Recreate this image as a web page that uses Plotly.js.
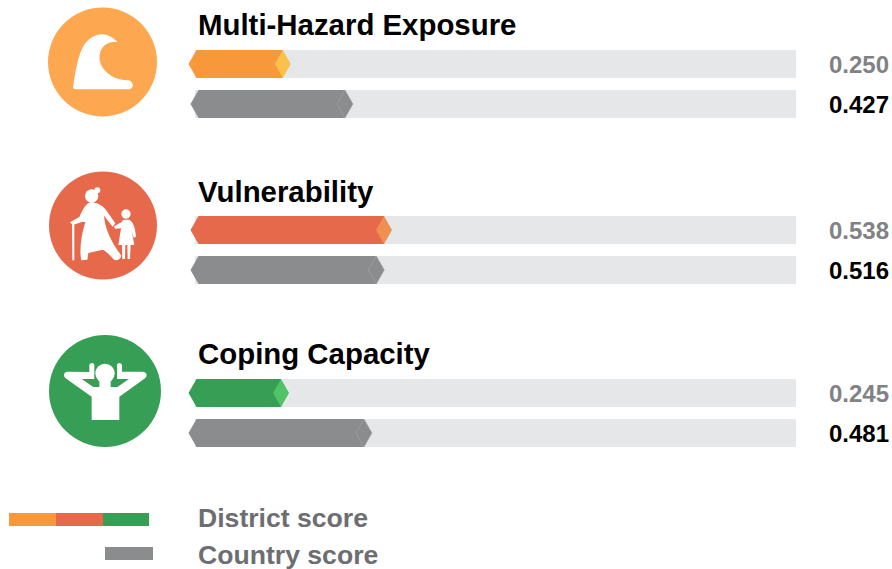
<!DOCTYPE html>
<html>
<head>
<meta charset="utf-8">
<script src="https://cdn.plot.ly/plotly-3.0.1.min.js"></script>
<style>html,body{margin:0;padding:0;background:#fff}#chart{width:892px;height:569px}</style>
</head>
<body>
<div id="chart"></div>
<script>
// ---- data ----
const categories = ['Multi-Hazard Exposure', 'Vulnerability', 'Coping Capacity'];
const districtScores = [0.250, 0.538, 0.245];
const countryScores = [0.427, 0.516, 0.481];
const legendLabels = ['District score', 'Country score'];

// ---- layout constants (pixels / styles) ----
const W = 892, H = 569;
const PX_PER_UNIT = 351.5, ZERO_PX = 194.9, TRACK_END_PX = 796;
const toScore = px => (px - ZERO_PX) / PX_PER_UNIT;
const districtRowY = [64, 230, 393];
const countryRowY = [104, 270, 433];
const titleY = [24, 191, 353];
const districtStartPx = [196.5, 198.5, 196.5];
const countryStartPx = [198.5, 198.5, 196.5];
const districtColors = ['#F7983A', '#E7694C', '#379F55'];
const tipColors = ['#F9C04C', '#EE9050', '#4FC366'];
const grey = '#8A8C8E', greyEdge = '#A3A5A7', track = '#E6E7E8';
const ROW_H = 28, TIP_PX = 8;
const FONT = '"Liberation Sans", Arial, sans-serif';
const tipHalf = TIP_PX / PX_PER_UNIT;

const traces = [];
const allY = districtRowY.concat(countryRowY);
const allStart = districtStartPx.concat(countryStartPx).map(toScore);
const allVals = districtScores.concat(countryScores);
const allCols = districtColors.concat(categories.map(() => grey));

// background tracks
traces.push({type:'bar', orientation:'h', y:allY, base:allY.map(()=>toScore(ZERO_PX)),
  x:allY.map(()=>toScore(TRACK_END_PX)-toScore(ZERO_PX)), width:ROW_H,
  marker:{color:track, line:{width:0}}, hoverinfo:'skip'});
// score bars
traces.push({type:'bar', orientation:'h', y:allY, base:allStart,
  x:allVals.map((v,i)=>v-allStart[i]), width:ROW_H,
  marker:{color:allCols, line:{width:0}}, hoverinfo:'skip'});

function diamond(xc, yc, color, lineColor){
  traces.push({type:'scatter', mode:'lines', fill:'toself', fillcolor:color,
    x:[xc-tipHalf, xc, xc+tipHalf, xc, xc-tipHalf],
    y:[yc, yc-ROW_H/2, yc, yc+ROW_H/2, yc],
    line:{color:lineColor||color, width:lineColor?0.6:0}, hoverinfo:'skip'});
}
allY.forEach((y,i)=>{ diamond(allStart[i], y, allCols[i]); });
districtScores.forEach((v,i)=>diamond(v, districtRowY[i], tipColors[i]));
countryScores.forEach((v,i)=>diamond(v, countryRowY[i], grey, greyEdge));

// ---- text ----
const annotations = [];
function label(text, px, py, size, color, anchor){
  annotations.push({text:'<b>'+text+'</b>', xref:'paper', x:px/W, yref:'y', y:py,
    xanchor:anchor||'left', yanchor:'middle', showarrow:false, align:anchor||'left',
    borderpad:0, font:{family:FONT, size:size, color:color}});
}
categories.forEach((c,i)=>label(c, 197, titleY[i], 29.4, '#000000'));
districtScores.forEach((v,i)=>label(v.toFixed(3), 889.5, districtRowY[i], 24, '#808285', 'right'));
countryScores.forEach((v,i)=>label(v.toFixed(3), 889.5, countryRowY[i], 24, '#000000', 'right'));
label(legendLabels[0], 197, 518, 26.6, '#6D6E71');
label(legendLabels[1], 197, 555, 26.6, '#6D6E71');

// ---- icons and legend patches: pixel-anchored shapes ----
const shapeBase = {xref:'paper', yref:'paper', xsizemode:'pixel', ysizemode:'pixel',
  xanchor:0, yanchor:1, layer:'above', line:{width:0}};
const shapes = [];
function circle(cx, cy, r, color){
  shapes.push(Object.assign({}, shapeBase, {type:'circle', x0:cx-r, x1:cx+r, y0:-(cy-r), y1:-(cy+r), fillcolor:color}));
}
function rect(x0, y0, x1, y1, color){
  shapes.push(Object.assign({}, shapeBase, {type:'rect', x0:x0, x1:x1, y0:-y0, y1:-y1, fillcolor:color}));
}
function glyph(ox, oy, d, color){
  let n = 0;
  const path = d.replace(/-?\d+(\.\d+)?/g, m => {
    const v = Number(m) / 3;
    return (n++ % 2 === 0) ? (ox + v).toFixed(2) : (-(oy + v)).toFixed(2);
  });
  shapes.push(Object.assign({}, shapeBase, {type:'path', path:path, fillcolor:color||'#FFFFFF'}));
}
function glyphDot(ox, oy, zx, zy, zr, color){ circle(ox+zx/3, oy+zy/3, zr/3, color||'#FFFFFF'); }

// wave
circle(102.5, 62, 54.5, '#FDA750');
glyph(40, 0, 'M 100 258 C 106 215 114 165 132 135 C 150 108 185 92 215 112 C 224 118 232 124 232 127 C 212 122 192 132 183 150 C 170 180 185 210 215 228 C 232 238 250 240 265 241 C 282 243 284 268 265 268 L 108 268 C 100 268 99 264 100 258 Z');

// elder and child
circle(103, 225.5, 54, '#E7694C');
const OX2 = 40, OY2 = 165;
glyphDot(OX2, OY2, 155, 93, 20);
glyphDot(OX2, OY2, 172, 76, 9);
glyph(OX2, OY2, 'M 148 113 C 165 110 185 118 198 135 L 226 175 L 218 185 L 192 152 C 195 190 210 225 244 272 C 240 284 230 288 222 284 C 210 270 198 258 188 254 L 145 264 L 142 284 L 124 286 C 118 260 122 215 136 172 L 128 170 L 98 180 L 90 172 L 118 156 C 128 135 135 118 148 113 Z');
glyph(OX2, OY2, 'M 96 176 L 103 176 L 103 286 L 97 286 Z');
glyphDot(OX2, OY2, 258, 147, 14);
glyph(OX2, OY2, 'M 250 164 L 268 164 C 278 170 286 185 288 215 L 281 218 L 275 198 L 283 240 L 235 240 L 243 190 L 225 191 L 222 184 L 244 172 Z');
glyph(OX2, OY2, 'M 246 238 L 256 238 L 255 282 L 247 282 Z');
glyph(OX2, OY2, 'M 262 238 L 272 238 L 270 282 L 263 282 Z');

// relaxed person
circle(105, 391, 56, '#379F55');
const OX3 = 40, OY3 = 325;
glyph(OX3, OY3, 'M 155 285 L 155 215 L 77 160 C 68 152 72 140 82 140 L 148 141 L 148 120 C 150 112 162 112 163 120 L 163 162 L 125 162 L 160 186 L 232 186 L 267 162 L 231 162 L 231 120 C 232 112 244 112 246 120 L 246 140 L 308 140 C 320 140 324 152 315 160 L 238 215 L 238 285 Z');
glyphDot(OX3, OY3, 195, 145, 29);
glyph(OX3, OY3, 'M 178 165 L 212 165 L 212 190 L 178 190 Z');

// legend patches
rect(9, 513, 56, 526, districtColors[0]);
rect(56, 513, 103, 526, districtColors[1]);
rect(103, 513, 149, 526, districtColors[2]);
rect(105, 547, 153, 560, grey);

const layout = {
  width:W, height:H, margin:{l:0,r:0,t:0,b:0}, autosize:false,
  paper_bgcolor:'#FFFFFF', plot_bgcolor:'#FFFFFF', showlegend:false, barmode:'overlay',
  xaxis:{visible:false, range:[toScore(0), toScore(W)], fixedrange:true},
  yaxis:{visible:false, range:[H, 0], fixedrange:true},
  annotations:annotations, shapes:shapes
};
Plotly.newPlot('chart', traces, layout, {displayModeBar:false, staticPlot:true});
</script>
</body>
</html>
